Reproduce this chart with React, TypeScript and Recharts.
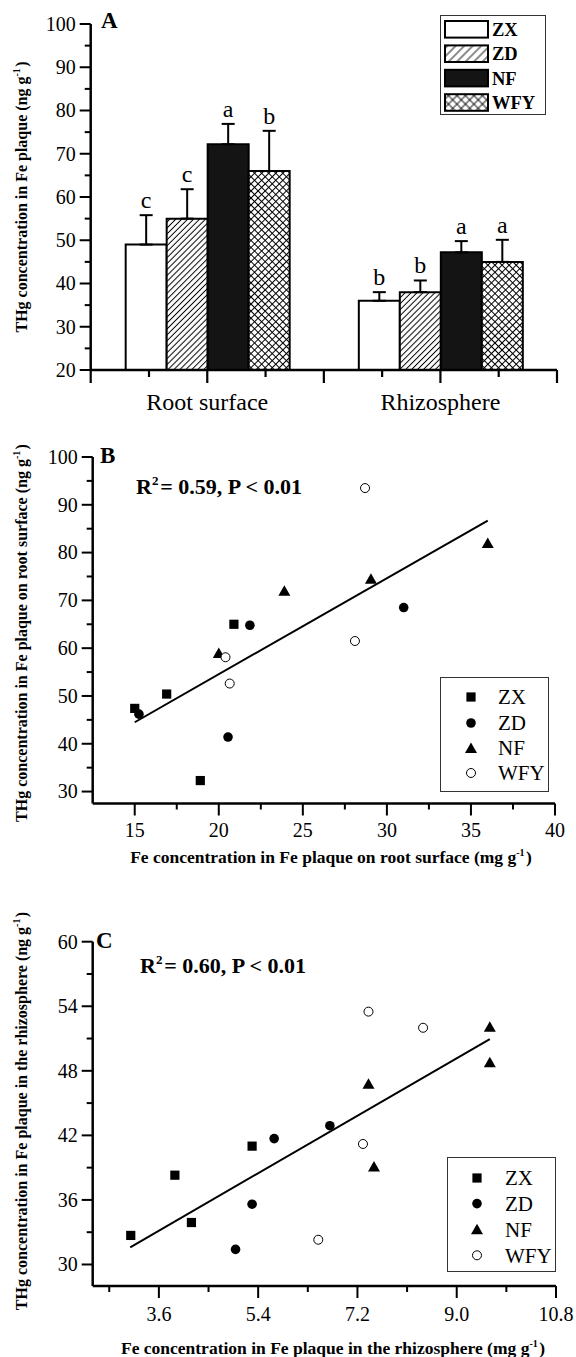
import React from 'react';
import {
  BarChart, Bar, XAxis, YAxis, ErrorBar, LabelList, Legend,
  ScatterChart, Scatter, ReferenceLine,
} from 'recharts';

const FONT = "'Liberation Serif', 'Times New Roman', Times, serif";

// ---------- Panel A data ----------
const categoriesA = ['Root surface', 'Rhizosphere'];
const seriesA = ['ZX', 'ZD', 'NF', 'WFY'];
const meanZX = [49, 36];
const meanZD = [55, 38];
const meanNF = [72.2, 47.2];
const meanWFY = [66, 45];
const errZX = [6.8, 2.0];
const errZD = [6.8, 2.7];
const errNF = [4.7, 2.6];
const errWFY = [9.3, 5.1];
const letZX = ['c', 'b'];
const letZD = ['c', 'b'];
const letNF = ['a', 'a'];
const letWFY = ['b', 'a'];
const yTicksA = [20, 25, 30, 35, 40, 45, 50, 55, 60, 65, 70, 75, 80, 85, 90, 95, 100];
const yMajorsA = [20, 30, 40, 50, 60, 70, 80, 90, 100];

// ---------- Panel B data ----------
const zxB = [{ x: 15.0, y: 47.4 }, { x: 16.9, y: 50.4 }, { x: 18.9, y: 32.3 }, { x: 20.9, y: 65.0 }];
const zdB = [{ x: 15.25, y: 46.2 }, { x: 21.85, y: 64.8 }, { x: 20.55, y: 41.4 }, { x: 31.0, y: 68.5 }];
const nfB = [{ x: 20.0, y: 59.0 }, { x: 23.9, y: 72.0 }, { x: 29.05, y: 74.5 }, { x: 36.0, y: 82.0 }];
const wfyB = [{ x: 20.4, y: 58.1 }, { x: 20.65, y: 52.6 }, { x: 28.1, y: 61.5 }, { x: 28.7, y: 93.5 }];
const fitB = [{ x: 15.0, y: 44.5 }, { x: 36.0, y: 86.7 }];
const xTicksB = [15, 17.5, 20, 22.5, 25, 27.5, 30, 32.5, 35, 37.5, 40];
const xMajorsB = [15, 20, 25, 30, 35, 40];
const yTicksB = [30, 35, 40, 45, 50, 55, 60, 65, 70, 75, 80, 85, 90, 95, 100];
const yMajorsB = [30, 40, 50, 60, 70, 80, 90, 100];

// ---------- Panel C data ----------
const zxC = [{ x: 3.09, y: 32.7 }, { x: 3.89, y: 38.3 }, { x: 4.19, y: 33.9 }, { x: 5.29, y: 41.0 }];
const zdC = [{ x: 4.99, y: 31.4 }, { x: 5.29, y: 35.6 }, { x: 5.69, y: 41.7 }, { x: 6.70, y: 42.9 }];
const nfC = [{ x: 7.40, y: 46.8 }, { x: 7.50, y: 39.1 }, { x: 9.60, y: 52.1 }, { x: 9.60, y: 48.8 }];
const wfyC = [{ x: 7.40, y: 53.5 }, { x: 8.39, y: 52.0 }, { x: 7.30, y: 41.2 }, { x: 6.49, y: 32.3 }];
const fitC = [{ x: 3.08, y: 31.6 }, { x: 9.60, y: 50.95 }];
const xTicksC = [2.7, 3.6, 4.5, 5.4, 6.3, 7.2, 8.1, 9.0, 9.9, 10.8];
const xMajorsC = [3.6, 5.4, 7.2, 9.0, 10.8];
const yTicksC = [30, 33, 36, 39, 42, 45, 48, 51, 54, 57, 60];
const yMajorsC = [30, 36, 42, 48, 54, 60];

const rowsA = categoriesA.map((cat, i) => ({
  cat,
  ZX: meanZX[i], ZD: meanZD[i], NF: meanNF[i], WFY: meanWFY[i],
  ZX_err: [0, errZX[i]], ZD_err: [0, errZD[i]], NF_err: [0, errNF[i]], WFY_err: [0, errWFY[i]],
  ZX_let: letZX[i], ZD_let: letZD[i], NF_let: letNF[i], WFY_let: letWFY[i],
}));
const errMap: Record<string, number[]> = { ZX: errZX, ZD: errZD, NF: errNF, WFY: errWFY };
const meanMap: Record<string, number[]> = { ZX: meanZX, ZD: meanZD, NF: meanNF, WFY: meanWFY };

const fillA: Record<string, string> = {
  ZX: '#ffffff', ZD: 'url(#hatchZD)', NF: '#141414', WFY: 'url(#crossWFY)',
};
const legendFillA: Record<string, string> = {
  ZX: '#ffffff', ZD: 'url(#lgHatchZD)', NF: '#141414', WFY: 'url(#lgCrossWFY)',
};

const isIn = (arr: number[], v: number) => arr.some((m) => Math.abs(m - v) < 1e-6);

function yTick(majors: number[], fmt: (v: number) => string) {
  return (props: any) => {
    const { x, y, payload } = props;
    const v = Number(payload.value);
    const major = isIn(majors, v);
    return (
      <g>
        <line x1={x} x2={x - (major ? 11 : 6)} y1={y} y2={y} stroke="#000" strokeWidth={2} />
        {major ? (
          <text x={x - 15} y={y} dy="0.34em" textAnchor="end" fontFamily={FONT} fontSize={20} fill="#000">
            {fmt(v)}
          </text>
        ) : null}
      </g>
    );
  };
}

function xTick(majors: number[], fmt: (v: number) => string, labelOffset: number) {
  return (props: any) => {
    const { x, y, payload } = props;
    const v = Number(payload.value);
    const major = isIn(majors, v);
    return (
      <g>
        <line x1={x} x2={x} y1={y} y2={y + (major ? 12 : 6)} stroke="#000" strokeWidth={2} />
        {major ? (
          <text x={x} y={y + labelOffset} dy="0.34em" textAnchor="middle" fontFamily={FONT} fontSize={20} fill="#000">
            {fmt(v)}
          </text>
        ) : null}
      </g>
    );
  };
}

const PLOT_A_LEFT = 90.7;
const PLOT_A_RIGHT = 557;
const BAND_A = (PLOT_A_RIGHT - PLOT_A_LEFT) / categoriesA.length;

const XTickA = (props: any) => {
  const { x, y, payload, index } = props;
  const q = BAND_A / 4;
  const marks: [number, number][] = [[x - q, 7], [x, 13], [x + q, 7], [x + 2 * q, 13]];
  if (index === 0) marks.unshift([x - 2 * q, 13]);
  return (
    <g>
      {marks.map(([mx, len], i) => (
        <line key={i} x1={mx} x2={mx} y1={y} y2={y + len} stroke="#000" strokeWidth={2.2} />
      ))}
      <text x={x} y={y + 40} textAnchor="middle" fontFamily={FONT} fontSize={24} fill="#000">
        {payload.value}
      </text>
    </g>
  );
};

const Y_MIN_A = 20;

function letterLabel(s: string) {
  return (props: any) => {
    const vb = props.viewBox || props;
    const x = Number(vb.x ?? props.x);
    const y = Number(vb.y ?? props.y);
    const w = Number(vb.width ?? props.width);
    const h = Number(vb.height ?? props.height);
    const idx = Number(props.index ?? 0);
    const val = meanMap[s][idx];
    const err = errMap[s][idx];
    const pxPerUnit = h / (val - Y_MIN_A);
    const top = y - err * pxPerUnit;
    return (
      <text x={x + w / 2} y={top - 7} textAnchor="middle" fontFamily={FONT} fontSize={24} fill="#000">
        {props.value}
      </text>
    );
  };
}

const Sup = ({ children, size = 10, up = 7 }: any) => (
  <>
    <tspan dy={-up} fontSize={size}>{children}</tspan>
    <tspan dy={up}>{'\u200A'}</tspan>
  </>
);

const LegendA = () => (
  <svg width={106} height={100} style={{ display: 'block' }}>
    <defs>
      <pattern id="lgHatchZD" patternUnits="userSpaceOnUse" width="6" height="6" patternTransform="rotate(45)">
        <rect width="6" height="6" fill="#fff" />
        <line x1="3" y1="0" x2="3" y2="6" stroke="#000" strokeWidth="0.9" />
      </pattern>
      <pattern id="lgCrossWFY" patternUnits="userSpaceOnUse" width="6" height="6" patternTransform="rotate(45)">
        <rect width="6" height="6" fill="#fff" />
        <line x1="3" y1="0" x2="3" y2="6" stroke="#000" strokeWidth="0.9" />
        <line x1="0" y1="3" x2="6" y2="3" stroke="#000" strokeWidth="0.9" />
      </pattern>
    </defs>
    <rect x={0.5} y={0.5} width={105} height={99} fill="#fff" stroke="#333" strokeWidth={1} />
    {seriesA.map((s, i) => {
      const top = 6 + i * 24.4;
      return (
        <g key={s}>
          <rect x={5} y={top} width={43} height={16.6} fill={legendFillA[s]} stroke="#000" strokeWidth={2} />
          <text x={52} y={top + 8.3} dy="0.35em" fontFamily={FONT} fontWeight="bold" fontSize={18.5} fill="#000">
            {s}
          </text>
        </g>
      );
    })}
  </svg>
);

// ---- scatter marker shapes ----
const SquareShape = (p: any) => <rect x={p.cx - 4.6} y={p.cy - 4.6} width={9.2} height={9.2} fill="#000" />;
const DotShape = (p: any) => <circle cx={p.cx} cy={p.cy} r={4.8} fill="#000" />;
const TriShape = (p: any) => (
  <polygon points={`${p.cx},${p.cy - 5.5} ${p.cx + 6},${p.cy + 5} ${p.cx - 6},${p.cy + 5}`} fill="#000" />
);
const OpenShape = (p: any) => <circle cx={p.cx} cy={p.cy} r={4.5} fill="#fff" stroke="#000" strokeWidth={1} />;

const scatterSeries = [
  { name: 'ZX', Shape: SquareShape },
  { name: 'ZD', Shape: DotShape },
  { name: 'NF', Shape: TriShape },
  { name: 'WFY', Shape: OpenShape },
];

const ScatterLegend = ({ symX, labX, rows }: { symX: number; labX: number; rows: number[] }) => (
  <svg width={110} height={116} style={{ display: 'block' }}>
    <rect x={0.5} y={0.5} width={108} height={114} fill="#fff" stroke="#333" strokeWidth={1} />
    {scatterSeries.map(({ name, Shape }, i) => (
      <g key={name}>
        <Shape cx={symX} cy={rows[i]} />
        <text x={labX} y={rows[i]} dy="0.35em" fontFamily={FONT} fontSize={21} fill="#000">{name}</text>
      </g>
    ))}
  </svg>
);

const fmtInt = (v: number) => String(Math.round(v));
const fmt1 = (v: number) => v.toFixed(1);

export default function App() {
  return (
    <div style={{ position: 'absolute', left: 0, top: 0, width: 576, height: 1357, background: '#fff', overflow: 'hidden' }}>
      {/* Panel A */}
      <div style={{ position: 'absolute', left: 0, top: 0 }}>
        <BarChart
          width={576}
          height={440}
          data={rowsA}
          margin={{ top: 24, right: 576 - PLOT_A_RIGHT, left: PLOT_A_LEFT - 60, bottom: 40 }}
          barCategoryGap="15%"
          barGap={0}
        >
          <defs>
            <pattern id="hatchZD" patternUnits="userSpaceOnUse" width="4.2" height="4.2" patternTransform="rotate(45)">
              <rect width="4.2" height="4.2" fill="#fff" />
              <line x1="2.1" y1="0" x2="2.1" y2="4.2" stroke="#000" strokeWidth="1" />
            </pattern>
            <pattern id="crossWFY" patternUnits="userSpaceOnUse" width="5" height="5" patternTransform="rotate(45)">
              <rect width="5" height="5" fill="#fff" />
              <line x1="2.5" y1="0" x2="2.5" y2="5" stroke="#000" strokeWidth="1" />
              <line x1="0" y1="2.5" x2="5" y2="2.5" stroke="#000" strokeWidth="1" />
            </pattern>
          </defs>
          <XAxis
            dataKey="cat"
            height={30}
            axisLine={{ stroke: '#000', strokeWidth: 2.5 }}
            tickLine={false}
            tickSize={0}
            tickMargin={0}
            interval={0}
            tick={XTickA}
          />
          <YAxis
            type="number"
            width={60}
            domain={[20, 100]}
            ticks={yTicksA}
            interval={0}
            allowDataOverflow
            axisLine={{ stroke: '#000', strokeWidth: 2.5 }}
            tickLine={false}
            tickSize={0}
            tickMargin={0}
            tick={yTick(yMajorsA, fmtInt)}
          />
          {seriesA.map((s) => (
            <Bar key={s} dataKey={s} fill={fillA[s]} stroke="#000" strokeWidth={2} isAnimationActive={false}>
              <ErrorBar dataKey={`${s}_err`} width={6.5} stroke="#000" strokeWidth={2} direction="y" isAnimationActive={false} />
              <LabelList dataKey={`${s}_let`} content={letterLabel(s)} />
            </Bar>
          ))}
          <Legend
            layout="horizontal"
            verticalAlign="middle"
            align="center"
            wrapperStyle={{ left: 440, top: 14.5, width: 106, height: 100 }}
            content={() => <LegendA />}
          />
          <text x={101} y={28} fontFamily={FONT} fontWeight="bold" fontSize={23} fill="#000">A</text>
          <text
            x={21}
            y={197}
            transform="rotate(-90, 21, 197)"
            dy="0.35em"
            textAnchor="middle"
            fontFamily={FONT}
            fontWeight="bold"
            fontSize={16}
            fill="#000"
          >
            THg concentration in Fe plaque (ng g<Sup>-1</Sup>)
          </text>
        </BarChart>
      </div>

      {/* Panel B */}
      <div style={{ position: 'absolute', left: 0, top: 440 }}>
        <ScatterChart width={576} height={440} margin={{ top: 17, right: 21, left: 32.7, bottom: 46.5 }}>
          <XAxis
            type="number"
            dataKey="x"
            height={30}
            domain={[12.5, 40]}
            ticks={xTicksB}
            interval={0}
            allowDataOverflow
            axisLine={{ stroke: '#000', strokeWidth: 2.5 }}
            tickLine={false}
            tickSize={0}
            tickMargin={0}
            tick={xTick(xMajorsB, fmtInt, 27)}
          />
          <YAxis
            type="number"
            dataKey="y"
            width={60}
            domain={[27.5, 100]}
            ticks={yTicksB}
            interval={0}
            allowDataOverflow
            axisLine={{ stroke: '#000', strokeWidth: 2.5 }}
            tickLine={false}
            tickSize={0}
            tickMargin={0}
            tick={yTick(yMajorsB, fmtInt)}
          />
          <ReferenceLine segment={fitB} stroke="#000" strokeWidth={2} ifOverflow="visible" />
          <Scatter name="ZX" data={zxB} shape={SquareShape} isAnimationActive={false} />
          <Scatter name="ZD" data={zdB} shape={DotShape} isAnimationActive={false} />
          <Scatter name="NF" data={nfB} shape={TriShape} isAnimationActive={false} />
          <Scatter name="WFY" data={wfyB} shape={OpenShape} isAnimationActive={false} />
          <Legend
            layout="horizontal"
            verticalAlign="middle"
            align="center"
            wrapperStyle={{ left: 440, top: 237, width: 110, height: 116 }}
            content={() => <ScatterLegend symX={31} labX={58} rows={[20, 46, 71, 96]} />}
          />
          <text x={100} y={23} fontFamily={FONT} fontWeight="bold" fontSize={23} fill="#000">B</text>
          <text x={136} y={54} fontFamily={FONT} fontWeight="bold" fontSize={22} fill="#000">
            R<Sup size={13} up={9}>2</Sup>= 0.59, P &lt; 0.01
          </text>
          <text
            x={21}
            y={193}
            transform="rotate(-90, 21, 193)"
            dy="0.35em"
            textAnchor="middle"
            fontFamily={FONT}
            fontWeight="bold"
            fontSize={16}
            fill="#000"
          >
            THg concentration in Fe plaque on root surface (ng g<Sup>-1</Sup>)
          </text>
          <text x={331} y={423} textAnchor="middle" fontFamily={FONT} fontWeight="bold" fontSize={17.5} fill="#000">
            Fe concentration in Fe plaque on root surface (mg g<Sup>-1</Sup>)
          </text>
        </ScatterChart>
      </div>

      {/* Panel C */}
      <div style={{ position: 'absolute', left: 0, top: 880 }}>
        <ScatterChart width={576} height={477} margin={{ top: 61.7, right: 20, left: 32.7, bottom: 41 }}>
          <XAxis
            type="number"
            dataKey="x"
            height={30}
            domain={[2.4, 10.8]}
            ticks={xTicksC}
            interval={0}
            allowDataOverflow
            axisLine={{ stroke: '#000', strokeWidth: 2.5 }}
            tickLine={false}
            tickSize={0}
            tickMargin={0}
            tick={xTick(xMajorsC, fmt1, 28)}
          />
          <YAxis
            type="number"
            dataKey="y"
            width={60}
            domain={[28, 60]}
            ticks={yTicksC}
            interval={0}
            allowDataOverflow
            axisLine={{ stroke: '#000', strokeWidth: 2.5 }}
            tickLine={false}
            tickSize={0}
            tickMargin={0}
            tick={yTick(yMajorsC, fmtInt)}
          />
          <ReferenceLine segment={fitC} stroke="#000" strokeWidth={2} ifOverflow="visible" />
          <Scatter name="ZX" data={zxC} shape={SquareShape} isAnimationActive={false} />
          <Scatter name="ZD" data={zdC} shape={DotShape} isAnimationActive={false} />
          <Scatter name="NF" data={nfC} shape={TriShape} isAnimationActive={false} />
          <Scatter name="WFY" data={wfyC} shape={OpenShape} isAnimationActive={false} />
          <Legend
            layout="horizontal"
            verticalAlign="middle"
            align="center"
            wrapperStyle={{ left: 446.7, top: 276.7, width: 110, height: 116 }}
            content={() => <ScatterLegend symX={30} labX={58} rows={[21, 46.6, 72.3, 98.3]} />}
          />
          <text x={96} y={68} fontFamily={FONT} fontWeight="bold" fontSize={23} fill="#000">C</text>
          <text x={140} y={93} fontFamily={FONT} fontWeight="bold" fontSize={22} fill="#000">
            R<Sup size={13} up={9}>2</Sup>= 0.60, P &lt; 0.01
          </text>
          <text
            x={21}
            y={231}
            transform="rotate(-90, 21, 231)"
            dy="0.35em"
            textAnchor="middle"
            fontFamily={FONT}
            fontWeight="bold"
            fontSize={16}
            fill="#000"
          >
            THg concentration in Fe plaque in the rhizosphere (ng g<Sup>-1</Sup>)
          </text>
          <text x={333} y={474} textAnchor="middle" fontFamily={FONT} fontWeight="bold" fontSize={17.5} fill="#000">
            Fe concentration in Fe plaque in the rhizosphere (mg g<Sup>-1</Sup>)
          </text>
        </ScatterChart>
      </div>
    </div>
  );
}
